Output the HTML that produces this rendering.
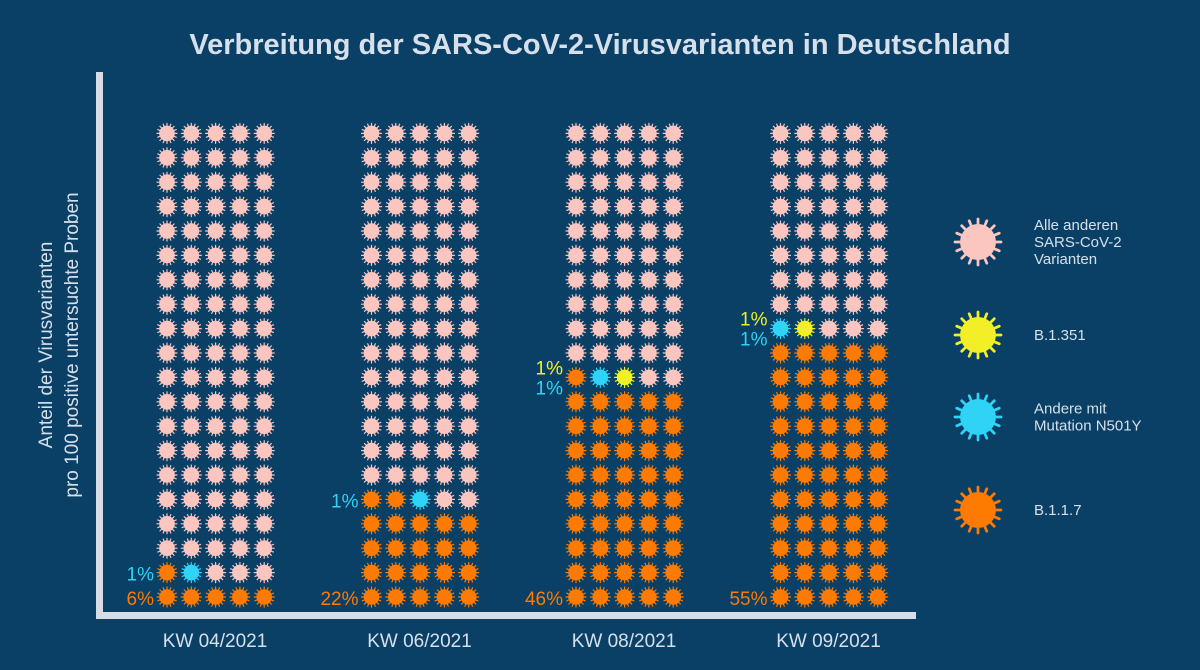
<!DOCTYPE html>
<html><head><meta charset="utf-8"><style>
body{margin:0;background:#0a3f66;}
svg{display:block;font-family:"Liberation Sans",sans-serif;}
</style></head><body>
<svg width="1200" height="670" viewBox="0 0 1200 670">
<rect width="1200" height="670" fill="#0a3f66"/>
<text x="600" y="54" text-anchor="middle" fill="#d6e0ea" font-size="29" font-weight="bold">Verbreitung der SARS-CoV-2-Virusvarianten in Deutschland</text>
<rect x="96" y="72" width="7" height="546" fill="#d6dde5"/>
<rect x="96" y="612" width="820" height="7" fill="#d6dde5"/>
<g transform="translate(58,345) rotate(-90)">
<text x="0" y="-6" text-anchor="middle" fill="#d6e0ea" font-size="19">Anteil der Virusvarianten</text>
<text x="0" y="20" text-anchor="middle" fill="#d6e0ea" font-size="19">pro 100 positive untersuchte Proben</text>
</g>
<g id="marks"></g>
<g id="legend"></g>
</svg>
<script>
const categories=["KW 04/2021","KW 06/2021","KW 08/2021","KW 09/2021"];
const b117=[6,22,46,55];
const n501y=[1,1,1,1];
const b1351=[0,0,1,1];
const colors={b117:"#ff7a00",n501y:"#2fd3f5",b1351:"#f2ef27",other:"#fcc6c0"};
const NS="http://www.w3.org/2000/svg";
const marks=document.getElementById('marks');
const legend=document.getElementById('legend');
function xGroup(i){return 167+i*204.5;}
function xCell(i,c){return xGroup(i)+c*24.3;}
function yRow(r){return 597-r*24.4;}
function virus(parent,cx,cy,r,col){
  const g=document.createElementNS(NS,'g');
  let d='';
  const n=16;
  for(let k=0;k<n;k++){const a=k*2*Math.PI/n;
    d+=`M${cx+Math.cos(a)*r*0.6} ${cy+Math.sin(a)*r*0.6}L${cx+Math.cos(a)*r} ${cy+Math.sin(a)*r}`;}
  const p=document.createElementNS(NS,'path');
  p.setAttribute('d',d);p.setAttribute('stroke',col);p.setAttribute('stroke-width',r*0.12);p.setAttribute('stroke-linecap','round');
  g.appendChild(p);
  const c=document.createElementNS(NS,'circle');
  c.setAttribute('cx',cx);c.setAttribute('cy',cy);c.setAttribute('r',r*0.78);c.setAttribute('fill',col);
  g.appendChild(c);
  parent.appendChild(g);return g;
}
function txt(x,y,s,col,size,anchor){
  const t=document.createElementNS(NS,'text');
  t.setAttribute('x',x);t.setAttribute('y',y);t.setAttribute('fill',col);t.setAttribute('font-size',size);
  t.setAttribute('text-anchor',anchor||'start');t.textContent=s;marks.appendChild(t);return t;
}
categories.forEach((cat,i)=>{
  for(let k=0;k<100;k++){
    const r=Math.floor(k/5),c=k%5;
    let col=colors.other,name='other-variant-mark';
    if(k<b117[i]){col=colors.b117;name='b117-mark';}
    else if(k<b117[i]+n501y[i]){col=colors.n501y;name='n501y-mark';}
    else if(k<b117[i]+n501y[i]+b1351[i]){col=colors.b1351;name='b1351-mark';}
    const g=virus(marks,xCell(i,c),yRow(r),10,col);
    
    
  }
  const lx=xGroup(i)-13;
  let t=txt(lx,yRow(0)+8,b117[i]+'%',colors.b117,19,'end');
  
  
  const rr=Math.floor(b117[i]/5);
  const yr=yRow(rr);
  if(b1351[i]>0){
    t=txt(lx,yr-3,b1351[i]+'%',colors.b1351,19,'end');
    
    
    t=txt(lx,yr+17,n501y[i]+'%',colors.n501y,19,'end');
  } else {
    t=txt(lx,yr+8,n501y[i]+'%',colors.n501y,19,'end');
  }
  
  
  t=txt(xGroup(i)+48,647,cat,'#d6e0ea',19,'middle');
  
  
});
const legendItems=[["Alle anderen","SARS-CoV-2","Varianten"],["B.1.351"],["Andere mit","Mutation N501Y"],["B.1.1.7"]];
const legendCols=[colors.other,colors.b1351,colors.n501y,colors.b117];
const legendY=[242,335,417,510];
legendItems.forEach((lines,i)=>{
  const g=virus(legend,978,legendY[i],23,legendCols[i]);
  
  
  lines.forEach((s,j)=>{
    const t=document.createElementNS(NS,'text');
    t.setAttribute('x',1034);t.setAttribute('y',legendY[i]+5+(j-(lines.length-1)/2)*17);
    t.setAttribute('fill','#d6e0ea');t.setAttribute('font-size',15);t.textContent=s;
    
    
    legend.appendChild(t);
  });
});
</script>
</body></html>
